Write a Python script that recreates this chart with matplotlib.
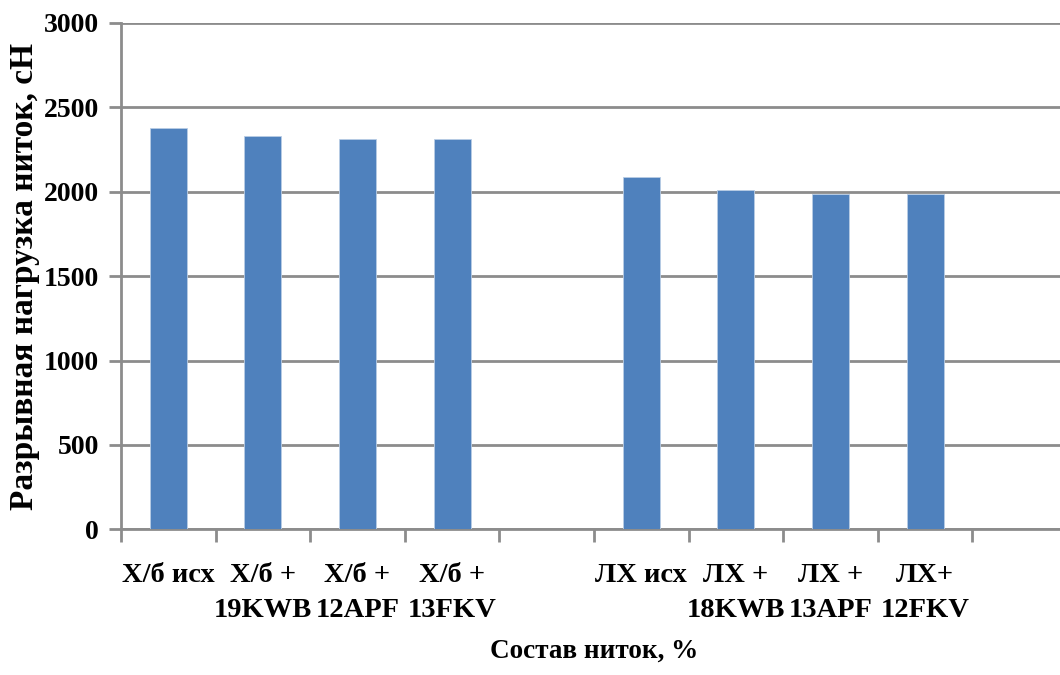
import matplotlib
matplotlib.use("Agg")
import matplotlib.pyplot as plt
import numpy as np

# Breaking load of threads by composition
categories = ["Х/б исх", "Х/б +\n19KWB", "Х/б +\n12APF", "Х/б +\n13FKV", "",
              "ЛХ исх", "ЛХ +\n18KWB", "ЛХ +\n13APF", "ЛХ+\n12FKV", ""]
values = [2380, 2330, 2310, 2310, np.nan, 2090, 2010, 1985, 1985, np.nan]
y_ticks = [0, 500, 1000, 1500, 2000, 2500, 3000]

plt.rcParams["font.family"] = ["Liberation Serif", "DejaVu Serif"]
plt.rcParams["font.weight"] = "bold"

fig = plt.figure(figsize=(10.6, 6.75), dpi=100)
ax = fig.add_axes([121 / 1060, 1 - 529.3 / 675, (1067 - 121) / 1060, (529.3 - 23) / 675])

x = np.arange(len(categories))
grid_col = "#8c8c8c"
ax.bar(x, values, width=0.39, color="#4f81bd", edgecolor="#b9cde5", linewidth=0.6, zorder=3)

ax.set_xlim(-0.5, len(categories) - 0.5)
ax.set_ylim(0, 3000)
ax.set_yticks(y_ticks)
ax.set_yticklabels([str(v) for v in y_ticks], fontsize=20, fontweight="bold")
ax.yaxis.grid(True, color=grid_col, linewidth=2.0, zorder=0)
ax.set_axisbelow(True)

# category boundaries carry the tick marks, centers carry the labels
ax.set_xticks(np.arange(-0.5, len(categories), 1.0))
ax.set_xticklabels([])
ax.set_xticks(x, minor=True)
ax.set_xticklabels(categories, minor=True, fontsize=20.5, fontweight="bold", linespacing=1.55)
ax.tick_params(axis="x", which="major", length=9, width=2.0, color=grid_col, direction="out")
ax.tick_params(axis="x", which="minor", length=0, pad=24)
ax.tick_params(axis="y", length=9, width=2.0, color=grid_col, direction="out", pad=7)

for side in ("top", "right"):
    ax.spines[side].set_visible(False)
for side in ("left", "bottom"):
    ax.spines[side].set_color(grid_col)
    ax.spines[side].set_linewidth(2.0)

ax.set_ylabel("Разрывная нагрузка ниток, сН", fontsize=24, fontweight="bold")
ax.set_xlabel("Состав ниток, %", fontsize=19.5, fontweight="bold", labelpad=11)
ax.yaxis.set_label_coords((40 - 121) / 946, 0.5)

fig.savefig("out.png", dpi=100, facecolor="white")
